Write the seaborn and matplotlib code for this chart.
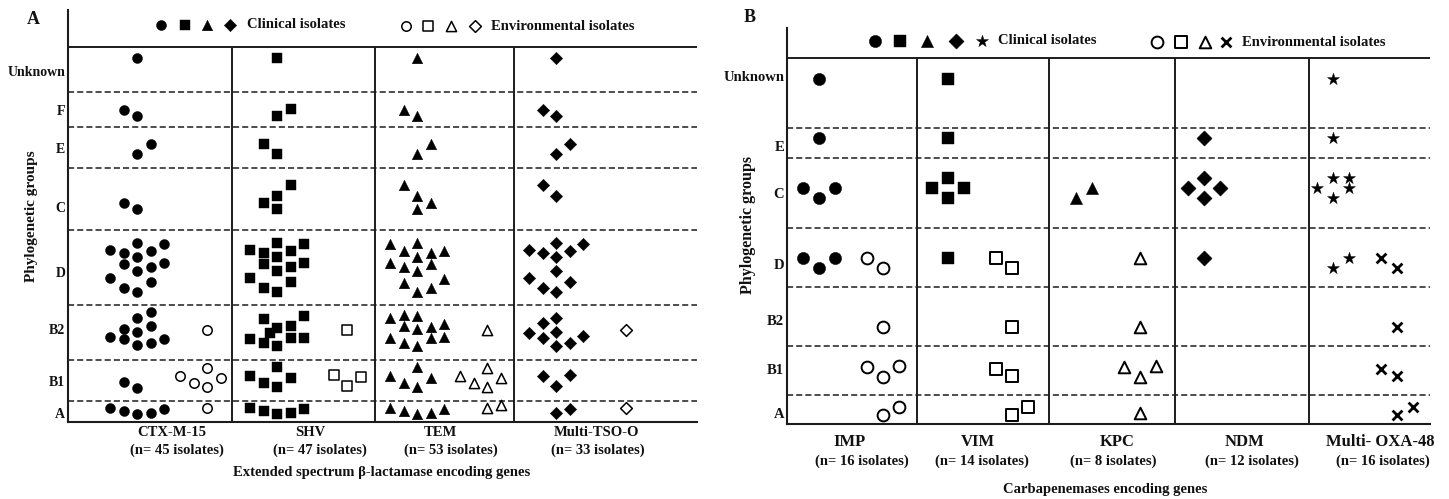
import matplotlib
matplotlib.use("Agg")
import matplotlib.pyplot as plt
import numpy as np
import pandas as pd
import seaborn as sns

# ------------------------------------------------------------------ data
groups_A = ["Unknown", "F", "E", "C", "D", "B2", "B1", "A"]
genes_A = ["CTX-M-15", "SHV", "TEM", "Multi-TSO-O"]
isolates_A = [45, 47, 53, 33]
clin_ctx = [1, 2, 2, 2, 14, 10, 2, 5]
clin_shv = [1, 2, 2, 4, 14, 10, 5, 5]
clin_tem = [1, 2, 2, 4, 14, 12, 5, 5]
clin_tso = [1, 2, 2, 2, 11, 8, 3, 2]
env_ctx = [0, 0, 0, 0, 0, 1, 5, 1]
env_shv = [0, 0, 0, 0, 0, 1, 3, 0]
env_tem = [0, 0, 0, 0, 0, 1, 5, 2]
env_tso = [0, 0, 0, 0, 0, 1, 0, 1]

groups_B = ["Unknown", "E", "C", "D", "B2", "B1", "A"]
genes_B = ["IMP", "VIM", "KPC", "NDM", "Multi- OXA-48"]
isolates_B = [16, 14, 8, 12, 16]
clin_imp = [1, 1, 3, 3, 0, 0, 0]
clin_vim = [1, 1, 4, 1, 0, 0, 0]
clin_kpc = [0, 0, 2, 0, 0, 0, 0]
clin_ndm = [0, 1, 4, 1, 0, 0, 0]
clin_oxa = [1, 1, 5, 2, 0, 0, 0]
env_imp = [0, 0, 0, 2, 1, 3, 2]
env_vim = [0, 0, 0, 2, 1, 2, 2]
env_kpc = [0, 0, 0, 1, 1, 3, 1]
env_ndm = [0, 0, 0, 0, 0, 0, 0]
env_oxa = [0, 0, 0, 2, 1, 2, 2]

xlabel_A = "Extended spectrum \u03b2-lactamase encoding genes"
xlabel_B = "Carbapenemases encoding genes"
ylabel = "Phylogenetic groups"

# ------------------------------------------------------------------ layout (pixel-like coordinates)
W, H = 1449, 499
LC = "#1c1c1c"

A_box = (68, 697, 10, 422)
A_head = 47
A_cols = [232, 375, 514]
A_rows = [47, 92, 127, 168, 230, 305, 360, 401, 422]
A_ticky = [71, 110, 148, 207, 272, 329, 381, 413]
A_center = [137, 277, 417, 556]
A_envdx, A_slot = 70, 13.5
A_name_x = [172, 310, 440, 596]
A_sub_x = [177, 320, 451, 598]

B_box = (787, 1430, 28, 424)
B_head = 58
B_cols = [917, 1049, 1175, 1309]
B_rows = [58, 128, 158, 228, 287, 346, 395, 424]
B_ticky = [76, 146, 193, 264, 320, 369, 413]
B_center = [819, 948, 1076, 1204, 1333]
B_envdx, B_slot = 64, 16
B_name_x = [850, 978, 1117, 1245, 1380]
B_sub_x = [862, 982, 1113, 1252, 1383]

# swarm templates: (slot offset, vertical px offset from row centre)
TPL_A_CLIN = {
    ("Unknown", 1): [(0, -11.5)],
    ("F", 2): [(-1, 0.5), (0, 6.5)],
    ("SHV", "F", 2): [(0, 6.5), (1, -0.5)],
    ("E", 2): [(0, 6.5), (1, -3.5)],
    ("SHV", "E", 2): [(-1, -3.5), (0, 6.5)],
    ("C", 2): [(-1, 4), (0, 10)],
    ("Multi-TSO-O", "C", 2): [(-1, -14), (0, -3)],
    ("C", 4): [(-1, 4), (0, -3), (0, 10), (1, -14)],
    ("TEM", "C", 4): [(-1, -14), (0, -3), (0, 10), (1, 4)],
    ("D", 14): [(-2, -17.5), (-1, -14.5), (0, -24.5), (1, -16.5), (2, -23.5),
                (-1, -3.5), (0, -10.5), (1, -0.5), (2, -4.5), (0, 3.5),
                (-2, 10.5), (-1, 20.5), (0, 24.5), (1, 14.5)],
    ("TEM", "D", 14): [(-2, -23.5), (-1, -16.8), (0, -24.2), (1, -14.8), (2, -16.8),
                       (-2, -4.2), (-1, -0.8), (0, -10.8), (1, -3.5), (0, 3.2),
                       (-1, 15.2), (0, 24.2), (1, 20.8), (2, 11.8)],
    ("D", 11): [(-2, -17.5), (-1, -14.5), (0, -24.5), (1, -16.5), (2, -23.5),
                (0, -10.5), (0, 3.5), (-2, 10.5), (-1, 20.5), (0, 24.5), (1, 14.5)],
    ("B2", 10): [(1, -20.5), (0, -14.5), (1, -6.5), (-1, -3.5), (0, -0.5),
                 (-2, 4.5), (-1, 6.5), (0, 12.5), (1, 10.5), (2, 6.5)],
    ("SHV", "B2", 10): [(-1, -13.5), (2, -16.5), (0, -4.5), (1, -6.5), (-0.5, 0.5),
                        (-2, 6.5), (-1, 10.5), (1, 5.5), (2, 5.5), (0, 13.5)],
    ("B2", 12): [(-2, -14.5), (-1, -17.5), (0, -16.5), (-1, -6.5), (0, -3.5), (1, -5.5),
                 (2, -8.5), (-2, 5.5), (-1, 10.5), (0, 13.5), (1, 5.5), (2, 4.5)],
    ("B2", 8): [(-1, -9.5), (0, -14.5), (-2, 0.5), (-1, 5.5), (0, -0.5),
                (0, 13.5), (1, 10.5), (2, 3.5)],
    ("B1", 2): [(-1, 1.5), (0, 7.5)],
    ("B1", 5): [(-2, -4.5), (0, -13.5), (-1, 2.5), (1, -2.5), (0, 6.5)],
    ("B1", 3): [(-1, -4.5), (0, 5.5), (1, -5.5)],
    ("A", 5): [(-2, -3.5), (-1, -0.5), (0, 2.5), (1, 1.5), (2, -2.5)],
    ("A", 2): [(0, 1.5), (1, -2.5)],
}
TPL_A_ENV = {
    ("B2", 1): [(0, -2)],
    ("B1", 5): [(-2, -4.5), (-1, 2.5), (0, -12.5), (0, 6.5), (1, -2.5)],
    ("B1", 3): [(-1, -5.5), (0, 5.5), (1, -3.5)],
    ("A", 1): [(0, -3)],
    ("A", 2): [(0, -3.5), (1, -6.5)],
}
TPL_B_CLIN = {
    ("Unknown", 1): [(0, -14)],
    ("E", 1): [(0, -5)],
    ("C", 2): [(0, 5), (1, -5)],
    ("C", 3): [(-1, -5), (0, 5), (1, -5)],
    ("C", 4): [(0, -15), (-1, -5), (1, -5), (0, 5)],
    ("C", 5): [(-1, -5), (0, -15), (1, -15), (1, -5), (0, 5)],
    ("D", 1): [(0, 0.5)],
    ("D", 2): [(0, 10.5), (1, 0.5)],
    ("D", 3): [(-1, 0.5), (0, 10.5), (1, 0.5)],
}
TPL_B_ENV = {
    ("D", 1): [(0, 0.5)],
    ("D", 2): [(-1, 0), (0, 10)],
    ("B2", 1): [(0, 10.5)],
    ("B1", 2): [(-1, -1.5), (0, 5.5)],
    ("B1", 3): [(-1, -3.5), (0, 6.5), (1, -4.5)],
    ("A", 1): [(0, 3.5)],
    ("A", 2): [(0, 5.5), (1, -2.5)],
}


def offsets(tpl, gene, grp, n):
    o = tpl.get((gene, grp, n), tpl.get((grp, n)))
    if o is None:  # generic fallback: zig-zag row
        o = [(k - (n - 1) / 2, 4 * (-1) ** k) for k in range(n)]
    return o[:n]


def build(genes, groups, clin, env, rows, centers, envdx, slot, tpl_c, tpl_e):
    recs = []
    for gi, g in enumerate(genes):
        for ri, grp in enumerate(groups):
            yc = (rows[ri] + rows[ri + 1]) / 2
            for src, counts, tpl, cx in (("Clinical", clin[gi], tpl_c, centers[gi]),
                                         ("Environmental", env[gi], tpl_e, centers[gi] + envdx)):
                n = counts[ri]
                if n == 0:
                    continue
                for dx, dy in offsets(tpl, g, grp, n):
                    recs.append(dict(gene=g, group=grp, source=src,
                                     x=cx + dx * slot, y=yc + dy))
    return pd.DataFrame(recs)


df_A = build(genes_A, groups_A,
             [clin_ctx, clin_shv, clin_tem, clin_tso],
             [env_ctx, env_shv, env_tem, env_tso],
             A_rows, A_center, A_envdx, A_slot, TPL_A_CLIN, TPL_A_ENV)
df_B = build(genes_B, groups_B,
             [clin_imp, clin_vim, clin_kpc, clin_ndm, clin_oxa],
             [env_imp, env_vim, env_kpc, env_ndm, env_oxa],
             B_rows, B_center, B_envdx, B_slot, TPL_B_CLIN, TPL_B_ENV)


def filled(m, s):
    return dict(marker=m, s=s, color="black", edgecolor="black", linewidth=0.3)


def hollow(m, s, lw):
    return dict(marker=m, s=s, color="white", edgecolor="black", linewidth=lw)


STY_A = {
    ("CTX-M-15", "Clinical"): filled("o", 52), ("CTX-M-15", "Environmental"): hollow("o", 46, 1.1),
    ("SHV", "Clinical"): filled("s", 48), ("SHV", "Environmental"): hollow("s", 42, 1.1),
    ("TEM", "Clinical"): filled("^", 58), ("TEM", "Environmental"): hollow("^", 54, 1.1),
    ("Multi-TSO-O", "Clinical"): filled("D", 40), ("Multi-TSO-O", "Environmental"): hollow("D", 36, 1.1),
}
STY_B = {
    ("IMP", "Clinical"): filled("o", 78), ("IMP", "Environmental"): hollow("o", 72, 1.4),
    ("VIM", "Clinical"): filled("s", 72), ("VIM", "Environmental"): hollow("s", 64, 1.4),
    ("KPC", "Clinical"): filled("^", 78), ("KPC", "Environmental"): hollow("^", 70, 1.4),
    ("NDM", "Clinical"): filled("D", 60), ("NDM", "Environmental"): hollow("D", 54, 1.4),
    ("Multi- OXA-48", "Clinical"): filled("*", 82),
    ("Multi- OXA-48", "Environmental"): dict(marker="x", s=50, color="black", linewidth=2.0),
}

# ------------------------------------------------------------------ figure
sns.set_theme(style="white")
plt.rcParams["font.family"] = ["Liberation Serif", "DejaVu Serif"]
plt.rcParams["font.weight"] = "bold"

fig = plt.figure(figsize=(W / 100, H / 100), dpi=100)


def make_axes(box):
    x0, x1, yt, yb = box
    ax = fig.add_axes([x0 / W, 1 - yb / H, (x1 - x0) / W, (yb - yt) / H])
    return ax


def draw_panel(ax, df, sty, box, head, cols, rows, groups, ticky, row_fs):
    x0, x1, yt, yb = box
    for (g, src), sub in df.groupby(["gene", "source"], sort=False):
        sns.scatterplot(data=sub, x="x", y="y", ax=ax, legend=False, zorder=5,
                        clip_on=False, **sty[(g, src)])
    ax.hlines(head, x0, x1, color=LC, lw=1.4, zorder=2)
    ax.vlines(cols, head, yb, color=LC, lw=1.4, zorder=2)
    ax.hlines(rows[1:-1], x0, x1, color=LC, lw=1.1, linestyles=(0, (4, 2)), zorder=2)
    ax.set_xlim(x0, x1)
    ax.set_ylim(yb, yt)
    for side in ("top", "right"):
        ax.spines[side].set_visible(False)
    for side in ("left", "bottom"):
        ax.spines[side].set_color(LC)
        ax.spines[side].set_linewidth(1.5)
    ax.set_xticks([])
    ax.set_yticks(ticky)
    ax.set_yticklabels(groups, fontsize=row_fs, fontweight="bold", color="#111111")
    ax.tick_params(axis="y", length=0, pad=2)
    ax.set_xlabel("")
    ax.set_ylabel("")
    ax.set_facecolor("white")


def legend_row(ax, xs, y, styles, label, tx, fs=10.5):
    for x, st in zip(xs, styles):
        ax.scatter([x], [y], clip_on=False, zorder=6, **st)
    ax.text(tx, y, label, ha="left", va="center", fontsize=fs, fontweight="bold",
            color="#111111")


# ---------------- panel A
axA = make_axes(A_box)
draw_panel(axA, df_A, STY_A, A_box, A_head, A_cols, A_rows, groups_A, A_ticky, 10)
legend_row(axA, [161, 185, 207, 230], 25,
           [STY_A[(g, "Clinical")] for g in genes_A], "Clinical isolates", 247)
legend_row(axA, [406, 428, 451, 475], 26,
           [STY_A[(g, "Environmental")] for g in genes_A], "Environmental isolates", 491)
for g, n, xn, xs in zip(genes_A, isolates_A, A_name_x, A_sub_x):
    axA.text(xn, 433, g, ha="center", va="center", fontsize=10.5, fontweight="bold",
             clip_on=False, color="#111111")
    axA.text(xs, 450, f"(n= {n} isolates)", ha="center", va="center", fontsize=10.5,
             fontweight="bold", clip_on=False, color="#111111")
axA.text(382, 473, xlabel_A, ha="center", va="center", fontsize=10.5, fontweight="bold",
         clip_on=False, color="#111111")
axA.text(32, 216, ylabel, ha="center", va="center", rotation=90, fontsize=11,
         fontweight="bold", clip_on=False, color="#111111")
axA.text(33, 20, "A", ha="center", va="center", fontsize=13, fontweight="bold",
         clip_on=False, color="#111111")

# ---------------- panel B
axB = make_axes(B_box)
draw_panel(axB, df_B, STY_B, B_box, B_head, B_cols, B_rows, groups_B, B_ticky, 10.5)
legend_row(axB, [875, 900, 927, 956, 982], 41,
           [STY_B[(g, "Clinical")] for g in genes_B], "Clinical isolates", 998)
legend_row(axB, [1157, 1181, 1205, 1226], 42,
           [STY_B[(g, "Environmental")] for g in ["IMP", "VIM", "KPC", "Multi- OXA-48"]],
           "Environmental isolates", 1242)
for g, n, xn, xs in zip(genes_B, isolates_B, B_name_x, B_sub_x):
    axB.text(xn, 442, g, ha="center", va="center", fontsize=12, fontweight="bold",
             clip_on=False, color="#111111")
    axB.text(xs, 461, f"(n= {n} isolates)", ha="center", va="center", fontsize=10.5,
             fontweight="bold", clip_on=False, color="#111111")
axB.text(1105, 490, xlabel_B, ha="center", va="center", fontsize=10.5, fontweight="bold",
         clip_on=False, color="#111111")
axB.text(748, 225, ylabel, ha="center", va="center", rotation=90, fontsize=11.5,
         fontweight="bold", clip_on=False, color="#111111")
axB.text(750, 17, "B", ha="center", va="center", fontsize=13, fontweight="bold",
         clip_on=False, color="#111111")

fig.savefig("out.png", dpi=100, facecolor="white")
